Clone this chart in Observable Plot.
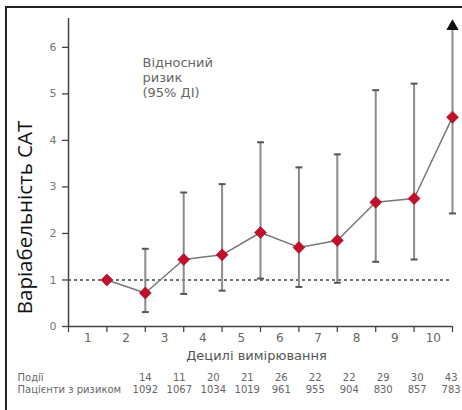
<!DOCTYPE html>
<html>
<head>
<meta charset="utf-8">
<script src="https://cdn.jsdelivr.net/npm/d3@7"></script>
<script src="https://cdn.jsdelivr.net/npm/@observablehq/plot@0.6"></script>
<style>
  html, body { margin: 0; padding: 0; background: #fff; }
  #wrap { position: relative; width: 462px; height: 410px; overflow: hidden; }
  #frame { position: absolute; left: 5px; top: 6px; width: 470px; height: 420px;
           border-top: 2px solid #222; border-left: 2px solid #222; pointer-events: none; }
</style>
</head>
<body>
<div id="wrap"><div id="frame"></div></div>
<script>
// ---- data ----
const deciles = [1, 2, 3, 4, 5, 6, 7, 8, 9, 10];
const relRisk = [1.0, 0.72, 1.44, 1.54, 2.02, 1.70, 1.85, 2.67, 2.75, 4.50];
const ciLow   = [null, 0.31, 0.70, 0.77, 1.03, 0.85, 0.94, 1.39, 1.44, 2.43];
const ciHigh  = [null, 1.67, 2.88, 3.06, 3.96, 3.42, 3.70, 5.08, 5.22, null]; // null on 10 = beyond axis (arrow)
const events  = [14, 11, 20, 21, 26, 22, 22, 29, 30, 43];
const atRisk  = [1092, 1067, 1034, 1019, 961, 955, 904, 830, 857, 783];
const yTicks  = [0, 1, 2, 3, 4, 5, 6];
const xLabels = ["1", "2", "3", "4", "5", "6", "7", "8", "9", "10"];

const yMax = 6.62;      // top of the axis
const yOpen = 6.45;     // where an open-ended interval is drawn to (arrow)

const data = deciles.map((k, i) => ({k, rr: relRisk[i], lo: ciLow[i], hi: ciHigh[i]}));
const withCI = data.filter(d => d.lo != null);
const capW = 0.09;
const col = i => 2.0 + i * 0.885;
const font = "DejaVu Sans, Verdana, sans-serif";

const chart = Plot.plot({
  width: 462,
  height: 410,
  marginLeft: 68,
  marginRight: 10,
  marginTop: 18,
  marginBottom: 84,
  x: {domain: [0, 10], axis: null},
  y: {domain: [0, yMax], axis: null},
  style: {fontFamily: font, background: "transparent", overflow: "visible"},
  marks: [
    Plot.ruleY([1], {stroke: "#444", strokeDasharray: "3,3", strokeWidth: 1.4}),
    Plot.axisY(yTicks, {tickSize: 6, tickPadding: 6, fontSize: 11, fill: "#777", stroke: "#444", strokeWidth: 1.3, label: null}),
    Plot.axisX(d3.range(0, 11), {tickSize: 6, tickFormat: () => "", stroke: "#444", strokeWidth: 1.3, label: null}),
    Plot.text(xLabels, {x: (d, i) => i + 0.5, frameAnchor: "bottom", dy: 12, lineAnchor: "middle", fontSize: 12, fill: "#666"}),
    Plot.ruleX([0], {stroke: "#444", strokeWidth: 1.5}),
    Plot.ruleY([0], {stroke: "#444", strokeWidth: 1.5}),
    Plot.ruleX(withCI, {x: "k", y1: "lo", y2: d => d.hi ?? yOpen, stroke: "#8a8a8a", strokeWidth: 2}),
    Plot.link(withCI, {x1: d => d.k - capW, x2: d => d.k + capW, y1: "lo", y2: "lo", stroke: "#555", strokeWidth: 2}),
    Plot.link(withCI.filter(d => d.hi != null), {x1: d => d.k - capW, x2: d => d.k + capW, y1: "hi", y2: "hi", stroke: "#555", strokeWidth: 2}),
    Plot.dot(withCI.filter(d => d.hi == null), {x: "k", y: yOpen, symbol: "triangle", r: 4.6, fill: "#111"}),
    Plot.line(data, {x: "k", y: "rr", stroke: "#777", strokeWidth: 1.5}),
    Plot.dot(data, {x: "k", y: "rr", symbol: "diamond2", r: 5.4, fill: "#c20f2b", stroke: "#9a0c22", strokeWidth: 0.6}),
    Plot.text(["Відносний\nризик\n(95% ДІ)"], {frameAnchor: "top-left", dx: 74, dy: 38, textAnchor: "start", lineAnchor: "top", lineHeight: 1.15, fontSize: 13, fill: "#666"}),
    Plot.text(["Варіабельність САТ"], {frameAnchor: "left", rotate: -90, dx: -43, dy: 45, textAnchor: "middle", lineAnchor: "middle", fontSize: 20.5, fill: "#111", fontFamily: "Open Sans, sans-serif"}),
    Plot.text(["Децилі вимірювання"], {frameAnchor: "bottom", dx: -4, dy: 29, lineAnchor: "middle", fontSize: 13, fill: "#555"}),
    Plot.text(["Події"], {frameAnchor: "bottom-left", dx: -51, dy: 51, textAnchor: "start", lineAnchor: "middle", fontSize: 10, fill: "#666"}),
    Plot.text(["Пацієнти з ризиком"], {frameAnchor: "bottom-left", dx: -51, dy: 63, textAnchor: "start", lineAnchor: "middle", fontSize: 10, fill: "#666"}),
    Plot.text(events, {x: (d, i) => col(i), text: d => String(d), frameAnchor: "bottom", dy: 51, lineAnchor: "middle", fontSize: 10, fill: "#666"}),
    Plot.text(atRisk, {x: (d, i) => col(i), text: d => String(d), frameAnchor: "bottom", dy: 63, lineAnchor: "middle", fontSize: 10, fill: "#666"})
  ]
});
document.getElementById("wrap").appendChild(chart);
</script>
</body>
</html>
